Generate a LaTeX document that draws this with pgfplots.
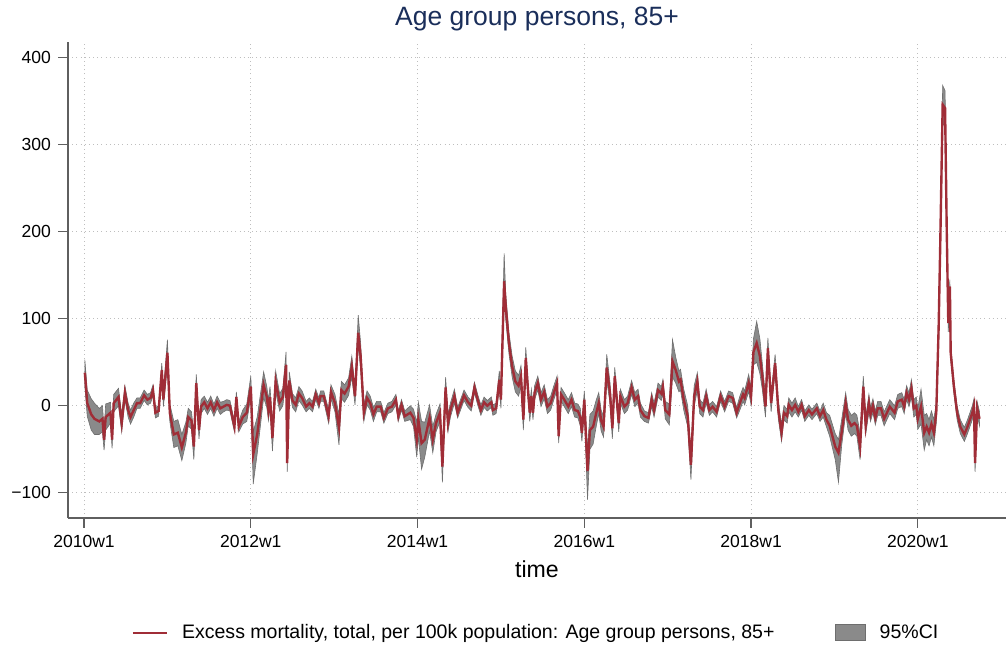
\documentclass[border=0pt]{standalone}
\usepackage{fontspec}
\setmainfont{Liberation Sans}
\usepackage{pgfplots}
\pgfplotsset{compat=1.18}
\usepackage{pgfplotstable}
\usepgfplotslibrary{fillbetween}
\usetikzlibrary{calc}

\definecolor{exred}{RGB}{160,45,55}
\definecolor{cigray}{RGB}{138,138,138}
\definecolor{cidark}{RGB}{110,110,110}
\definecolor{titleblue}{RGB}{26,46,90}
\definecolor{axgray}{RGB}{95,95,95}
\definecolor{gridgray}{RGB}{190,190,190}

% week index: 0 = 2010w1, 52 weeks per year
\pgfplotstableread{
t v lo hi
0.5 38 23 53
2 3 -12 18
4.5 -10 -28 8
6.5 -15 -33 3
9.5 -18 -33 -3
11.5 -15 -30 0
12.5 -39 -51 -27
13.5 -13 -28 2
16.5 -8 -20 4
17.5 -39 -49 -29
18.5 3 -7 13
21.5 10 0 20
23.5 -20 -30 -10
25.5 15 7 23
27.5 -5 -13 3
29 -13 -21 -5
31 -5 -13 3
33 3 -3 9
35 3 -3 9
37.5 12 6 18
39.5 7 1 13
41.5 9 3 15
43 18 12 24
44.5 -8 -14 -2
46.5 -6 -12 0
48.5 41 33 49
49.5 7 -1 15
52 61 46 76
53.5 -8 -18 2
56 -33 -48 -18
58.5 -31 -46 -16
61 -48 -63 -33
63.5 -31 -43 -19
65 -13 -23 -3
67 -17 -27 -7
68.5 -47 -62 -32
70 26 16 36
71.7 -28 -38 -18
73 -1 -9 7
75 4 -3 11
77 -3 -10 4
79 4 -3 11
81 -5 -12 2
83 4 -3 11
85 -3 -10 4
87 -1 -7 5
89 1 -5 7
91 0 -6 6
93.8 -24 -30 -18
95 10 4 16
96.5 -24 -30 -18
99 -13 -21 -5
101.5 -8 -18 2
104 22 10 34
105.5 -56 -90 -30
108 -33 -55 -13
112 24 9 39
114 10 -2 22
115 -5 -17 7
116 10 -2 22
117.5 -37 -52 -22
119.5 28 16 40
122 4 -6 14
124 10 0 20
126 47 32 62
126.7 -66 -76 -56
128 29 19 39
130 6 -2 14
132 1 -7 9
134 14 6 22
136 9 1 17
138.5 -1 -7 5
140.5 3 -3 9
142.5 -1 -7 5
144.5 13 7 19
146.5 3 -3 9
147.5 11 5 17
149.5 11 5 17
152.5 -12 -20 -4
154 16 8 24
156.5 3 -7 13
159 -25 -45 -10
160.5 18 8 28
162.5 14 4 24
165 22 12 32
167 45 33 57
169 11 1 21
171 84 70 104
172.5 57 42 72
174.5 -8 -18 2
176.5 9 1 17
178.5 3 -5 11
180.5 -10 -18 -2
182.5 -1 -7 5
185 -1 -7 5
187 -14 -20 -8
189.5 -3 -9 3
192 -1 -7 5
194.5 7 1 13
196 -12 -18 -6
198 1 -5 7
200 -12 -18 -6
203.5 -8 -16 0
205.5 -14 -24 -4
207.5 -39 -59 -19
208.5 -16 -36 4
210.5 -43 -73 -18
212.5 -39 -59 -19
215.5 -14 -29 1
217.5 -39 -54 -24
219.5 -20 -30 -10
222 -8 -18 2
223.5 -70 -88 -55
225.5 21 9 33
227 -20 -30 -10
228.5 -5 -13 3
231 11 3 19
233 -8 -14 -2
237 12 6 18
239.5 4 -2 10
241.5 0 -6 6
243.5 21 15 27
245.5 7 1 13
247.5 -5 -11 1
249.5 4 -2 10
251.5 0 -6 6
254 4 -2 10
255 -5 -11 1
257 -3 -9 3
259 30 20 40
260 7 -3 17
262 143 120 175
263 114 99 129
265 72 60 84
267 45 33 57
269 28 16 40
271 23 11 35
272.5 34 22 46
274 -16 -28 -4
275.5 55 43 67
277 15 5 25
278 -8 -18 2
279 11 3 19
280 -8 -16 0
281 15 7 23
283 26 18 34
285 7 -1 15
287 16 8 24
289 -1 -9 7
291 3 -5 11
293 15 7 23
295 26 18 34
296 -35 -43 -27
297.5 13 5 21
299.5 7 -1 15
302 -1 -9 7
304 7 -1 15
306 -5 -13 3
308 -6 -14 2
309.5 -13 -23 -3
310.5 -31 -41 -21
312 7 -3 17
314 -75 -108 -50
315.5 -28 -50 -10
317.5 -24 -44 -6
319.5 -8 -23 7
321 3 -9 15
322.5 -17 -29 -5
324 -24 -36 -12
326 44 29 59
328 15 3 27
329.5 -26 -38 -14
331 34 24 44
333.5 -20 -30 -10
334.5 11 3 19
337 -1 -9 7
339 3 -5 11
341.5 21 13 29
343.5 7 -1 15
345.5 11 3 19
347 -5 -13 3
349.5 -12 -18 -6
352 -14 -20 -8
354 7 -1 15
355.5 -5 -13 3
358 18 10 26
360 14 6 22
361 22 14 30
362.5 -5 -15 5
365 -10 -22 2
367 51 33 76
369 41 26 56
371 28 16 40
372 30 18 42
374 7 -5 19
376.5 -12 -24 0
378.5 -68 -85 -53
380.5 11 -1 23
382.5 28 18 38
384 -1 -9 7
386 -5 -13 3
388 11 3 19
390 -5 -11 1
392 -1 -7 5
394.5 -7 -13 -1
397 11 5 17
399.5 -1 -7 5
402 11 5 17
404.5 9 3 15
407 -8 -14 -2
409 3 -5 11
411 13 5 21
412 9 1 17
414.5 26 16 36
416 11 1 21
417.5 62 47 77
419.5 72 50 97
421.5 57 37 77
423 34 19 49
425 -1 -13 11
426.5 66 54 78
428.5 3 -7 13
431 49 39 59
433 -5 -15 5
435 -31 -41 -21
436.5 -8 -16 0
438.5 -12 -20 -4
439.5 1 -7 9
441.5 -5 -13 3
443.5 1 -7 9
445.5 -7 -13 -1
447.5 1 -5 7
449.5 -12 -18 -6
452 -5 -11 1
454 -10 -16 -4
457 -3 -9 3
459 -12 -18 -6
461 -5 -13 3
463 -16 -24 -8
465 -23 -35 -11
468.5 -47 -62 -32
470.5 -54 -88 -39
472.5 -31 -46 -16
475 3 -9 15
476.5 -16 -28 -4
478.5 -23 -35 -11
480.5 -20 -32 -8
482 -23 -35 -11
484 -47 -62 -32
486 22 10 34
487.5 -23 -33 -13
489.5 3 -7 13
490.5 -10 -18 -2
492 0 -8 8
493.5 -14 -22 -6
495 -3 -11 5
497 -3 -11 5
499 -15 -23 -7
502.5 -1 -9 7
505.5 -8 -16 0
507.5 5 -3 13
510 7 -1 15
511.5 -1 -9 7
513 15 7 23
514.5 7 -1 15
516 20 10 30
517.5 -3 -13 7
519 0 -10 10
520 -15 -27 -3
522 -1 -21 19
524 -31 -51 -11
525.5 -24 -39 -9
527 -31 -46 -16
528.5 -21 -36 -6
530 -31 -46 -16
531.5 -8 -20 4
533 91 76 106
534 187 172 202
535.5 346 324 368
537 342 322 362
538 206 191 221
539 95 85 105
540 137 129 145
540.5 61 53 69
542.5 22 14 30
544.5 -8 -16 0
546.5 -24 -32 -16
549 -33 -41 -25
551 -24 -32 -16
554 -8 -16 0
555 0 -8 8
555.7 -66 -76 -56
557 -3 -11 5
558.5 -15 -23 -7
}\excess

\begin{document}
\begin{tikzpicture}
\begin{axis}[
  scale only axis,
  width=469bp, height=238bp,
  xmin=-10, xmax=575,
  ymin=-129, ymax=418,
  axis x line*=bottom, axis y line*=left,
  xtick={0,104,208,312,416,520},
  xticklabels={2010w1,2012w1,2014w1,2016w1,2018w1,2020w1},
  ytick={-100,0,100,200,300,400},
  yticklabels={−100,0,100,200,300,400},
  tick align=outside, major tick length=5bp,
  tick style={axgray, line width=0.6pt},
  axis line style={axgray, line width=0.6pt},
  grid=major,
  grid style={gridgray, line width=0.5pt, dash pattern=on 0.5pt off 1.6pt},
  ticklabel style={font=\fontsize{8.8}{10}\selectfont},
  xlabel={time},
  xlabel style={font=\fontsize{11.6}{13}\selectfont},
  title={Age group persons, 85+},
  title style={font=\fontsize{13.3}{15}\selectfont, color=titleblue,
    at={(0.5,1)}, anchor=south, yshift=-4bp},
  legend style={at={(0.5,-0.241)}, anchor=center, draw=none,
    font=\fontsize{9.8}{11}\selectfont,
    /tikz/every odd column/.append style={column sep=5bp},
    /tikz/every even column/.append style={column sep=28bp}},
  legend columns=2,
  legend cell align=left,
]
\addplot[name path=hi, draw=none, forget plot] table[x=t, y=hi]{\excess};
\addplot[name path=lo, draw=none, forget plot] table[x=t, y=lo]{\excess};
\addplot[fill=cigray, draw=cidark, line width=0.3pt, forget plot] fill between[of=hi and lo];
\addplot[exred, line width=1.2pt] table[x=t, y=v]{\excess};
\addlegendentry{Excess mortality, total, per 100k population: Age group persons, 85+}
\addlegendimage{legend image code/.code={\draw[fill=cigray, draw=cidark, line width=0.6pt] (0bp,-4bp) rectangle (15bp,4bp);}}
\addlegendentry{95\%CI}
\end{axis}
\pgfresetboundingbox
\path ($(current axis.south west)+(-34bp,-65bp)$) rectangle ($(current axis.north east)+(0bp,21bp)$);
\end{tikzpicture}
\end{document}
